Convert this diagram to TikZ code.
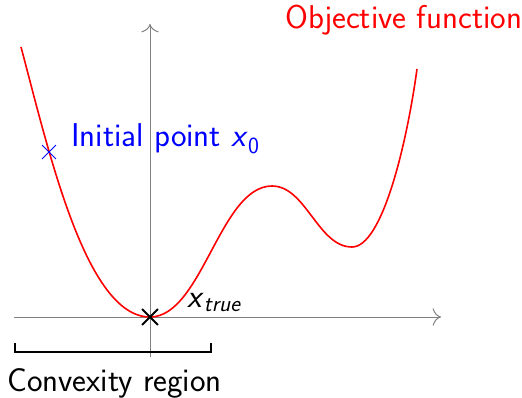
\documentclass[tikz,border=0pt]{standalone}
\usepackage{fontspec}
\usetikzlibrary{arrows.meta,shapes.misc}
\tikzset{
  axis/.style={draw=gray, line width=1pt, -{To[scale=2.2]}},
  curve/.style={draw=red, line width=1.6pt},
  lbl/.style={font=\fontsize{33}{38}\selectfont\sffamily, inner sep=0pt, anchor=base west},
  mark x/.style={cross out, draw, inner sep=0pt},
}
\begin{document}
\begin{tikzpicture}[x=1pt,y=-1pt]
\useasboundingbox (0,0) rectangle (522,398);
% axes
\coordinate (xl) at (14,317);
\coordinate (xr) at (441,317);
\coordinate (yb) at (150,357);
\coordinate (yt) at (150,24);
\draw[axis] (xl) -- (xr);
\draw[axis] (yb) -- (yt);
% objective function
\coordinate (f0) at (21,47);
\coordinate (fmin) at (150,317);
\coordinate (fmax) at (272,186);
\coordinate (floc) at (352,247);
\coordinate (f1) at (417,69);
\draw[curve] (f0) .. controls (49,152) and (86,317) .. (fmin)
  .. controls (202,317) and (220,186) .. (fmax)
  .. controls (306,186) and (318,247) .. (floc)
  .. controls (382,247) and (406.5,145.5) .. (f1);
% markers
\node[mark x, draw=black, line width=1.8pt, minimum size=14pt] (xt) at (fmin) {};
\node[mark x, draw=blue, line width=0.9pt, minimum size=13pt] (x0) at (49,152) {};
% labels
\node[lbl, text=red] (obj) at (285,29) {Objective function};
\node[lbl, text=blue] (init) at (71,147) {Initial point \textit{x}\textsubscript{0}};
\node[lbl] (true) at (187,307) {\textit{x}\textsubscript{\textit{true}}};
\node[lbl] (conv) at (7,391) {Convexity region};
% bracket
\coordinate (b1) at (15,343);
\coordinate (b2) at (211,343);
\draw[line width=1.8pt] (b1) -- (15,352) -- (211,352) -- (b2);
\end{tikzpicture}
\end{document}
